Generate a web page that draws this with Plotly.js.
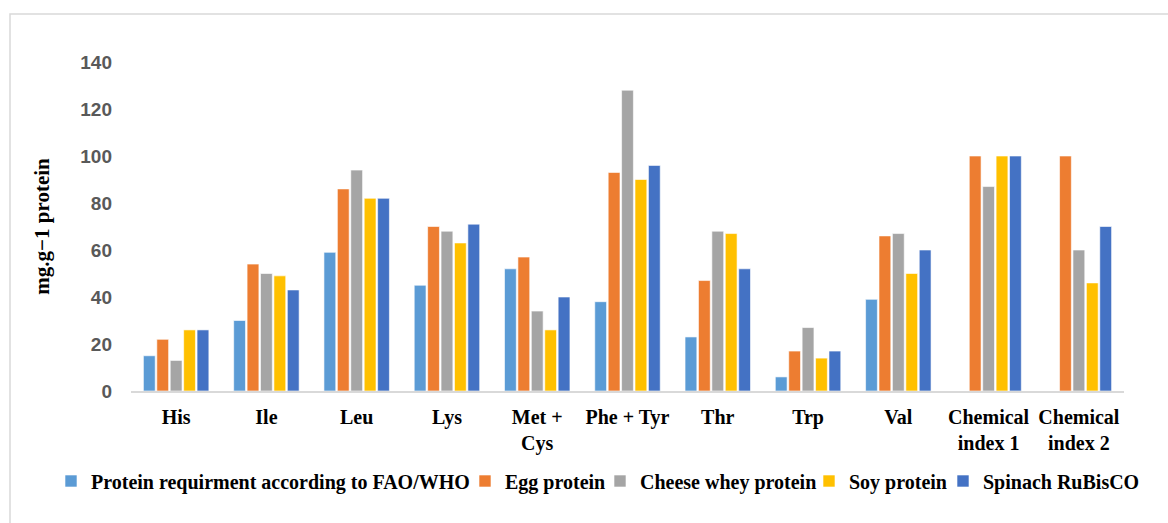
<!DOCTYPE html>
<html>
<head>
<meta charset="utf-8">
<script src="https://cdn.plot.ly/plotly-3.0.1.min.js"></script>
<style>html,body{margin:0;padding:0;background:#fff;}#chart{width:1168px;height:523px;}</style>
</head>
<body>
<div id="chart"></div>
<script>
var categories = ["His", "Ile", "Leu", "Lys", "Met +<br>Cys", "Phe + Tyr", "Thr", "Trp", "Val", "Chemical<br>index 1", "Chemical<br>index 2"];
var seriesNames = ["Protein requirment according to FAO/WHO", "Egg protein", "Cheese whey protein", "Soy protein", "Spinach RuBisCO"];
var faoWho   = [15, 30, 59, 45, 52, 38, 23, 6, 39, null, null];
var egg      = [22, 54, 86, 70, 57, 93, 47, 17, 66, 100, 100];
var whey     = [13, 50, 94, 68, 34, 128, 68, 27, 67, 87, 60];
var soy      = [26, 49, 82, 63, 26, 90, 67, 14, 50, 100, 46];
var rubisco  = [26, 43, 82, 71, 40, 96, 52, 17, 60, 100, 70];
var yTicks = [0, 20, 40, 60, 80, 100, 120, 140];

var colors = ["#5b9bd5", "#ed7d31", "#a5a5a5", "#ffc000", "#4472c4"];
var seriesValues = [faoWho, egg, whey, soy, rubisco];
var legendIds = ["legend", "legend2", "legend3", "legend4", "legend5"];

var traces = seriesValues.map(function (vals, i) {
  return {
    type: "bar",
    name: seriesNames[i],
    x: categories,
    y: vals,
    legend: legendIds[i],
    marker: {color: colors[i], line: {color: "#ffffff", width: 0.6}},
    hoverinfo: "x+y+name"
  };
});

var serif = "'Liberation Serif', 'Times New Roman', serif";
var L = 131, R = 1124, T = 62, B = 391;
var pw = R - L, ph = B - T;

// text start (px) of each legend entry in the reference
var legendTextStart = [91, 505, 640, 849, 983];

var layout = {
  width: 1168, height: 523,
  margin: {l: L, r: 1168 - R, t: T, b: 523 - B},
  paper_bgcolor: "#ffffff",
  plot_bgcolor: "#ffffff",
  barmode: "group",
  bargap: 0.257,
  bargroupgap: 0.12,
  showlegend: true,
  xaxis: {
    type: "category",
    showgrid: false,
    showline: true,
    linecolor: "#d9d9d9",
    linewidth: 1.5,
    ticks: "",
    ticklabelstandoff: 7,
    tickfont: {family: serif, size: 20, color: "#000000", weight: "bold"},
    zeroline: false,
    fixedrange: true
  },
  yaxis: {
    range: [0, 140],
    tickvals: yTicks,
    ticktext: yTicks.map(String),
    showgrid: false,
    showline: false,
    zeroline: false,
    ticks: "",
    ticklabelstandoff: 18,
    tickfont: {family: "'Liberation Sans', Arial, sans-serif", size: 19, color: "#595959", weight: "bold"},
    title: {text: "mg.g−1 protein", font: {family: serif, size: 21, color: "#000000", weight: "bold"}, standoff: 24},
    fixedrange: true
  },
  shapes: [{
    type: "rect", xref: "paper", yref: "paper",
    x0: (10 - L) / pw, x1: (1190 - L) / pw,
    y0: (B - 540) / ph, y1: (B - 14) / ph,
    line: {color: "#d9d9d9", width: 1.5},
    fillcolor: "rgba(0,0,0,0)",
    layer: "below"
  }]
};

legendIds.forEach(function (id, i) {
  layout[id] = {
    orientation: "h",
    x: (legendTextStart[i] - 40 - L) / pw, xanchor: "left",
    y: (B - 481) / ph, yanchor: "middle",
    font: {family: serif, size: 20, color: "#000000", weight: "bold"},
    bgcolor: "rgba(0,0,0,0)",
    itemwidth: 30
  };
});

Plotly.newPlot("chart", traces, layout, {displayModeBar: false, staticPlot: true});
</script>
</body>
</html>
